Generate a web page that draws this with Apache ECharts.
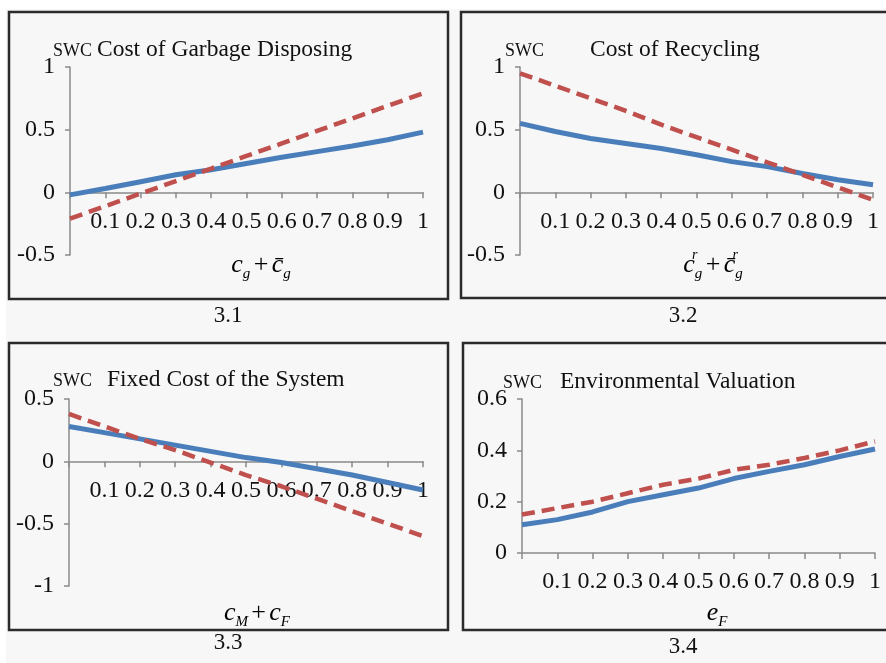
<!DOCTYPE html>
<html><head><meta charset="utf-8">
<script src="https://cdn.jsdelivr.net/npm/echarts@6/dist/echarts.min.js"></script>
<style>html,body{margin:0;padding:0;background:#f7f7f7}#c{width:886px;height:663px}</style>
</head><body><div id="c"></div>
<script>
// x positions (share of parameter)
const xValues = [0, 0.1, 0.2, 0.3, 0.4, 0.5, 0.6, 0.7, 0.8, 0.9, 1];
// 3.1 Cost of Garbage Disposing
const garbageSolid  = [-0.02, 0.03, 0.085, 0.14, 0.18, 0.23, 0.28, 0.325, 0.37, 0.42, 0.48];
const garbageDashed = [-0.21, -0.11, -0.01, 0.09, 0.19, 0.29, 0.39, 0.49, 0.59, 0.69, 0.79];
// 3.2 Cost of Recycling
const recycSolid  = [0.55, 0.485, 0.43, 0.39, 0.35, 0.30, 0.245, 0.205, 0.15, 0.10, 0.06];
const recycDashed = [0.95, 0.85, 0.75, 0.65, 0.54, 0.44, 0.34, 0.24, 0.14, 0.04, -0.06];
// 3.3 Fixed Cost of the System
const fixedSolid  = [0.28, 0.23, 0.18, 0.13, 0.08, 0.03, -0.01, -0.06, -0.11, -0.17, -0.23];
const fixedDashed = [0.38, 0.28, 0.18, 0.09, -0.01, -0.11, -0.20, -0.30, -0.40, -0.50, -0.60];
// 3.4 Environmental Valuation
const envSolid  = [0.11, 0.13, 0.16, 0.20, 0.227, 0.253, 0.29, 0.318, 0.344, 0.376, 0.405];
const envDashed = [0.15, 0.175, 0.20, 0.233, 0.266, 0.29, 0.324, 0.344, 0.37, 0.40, 0.435];

const titles = ['Cost of Garbage Disposing', 'Cost of Recycling', 'Fixed Cost of the System', 'Environmental Valuation'];
const captions = ['3.1', '3.2', '3.3', '3.4'];
const yLabel = 'SWC';
const yRanges = [[-0.5, 1, 0.5], [-0.5, 1, 0.5], [-1, 0.5, 0.5], [0, 0.6, 0.2]];

const FONT = '"Liberation Serif", "Times New Roman", serif';
const TXT = '#111111';
const BLUE = '#4a7ebb';
const RED = '#c0504d';
const AX = '#8a8a8a';

const grids = [
  {left: 70, top: 67, width: 353, height: 188},
  {left: 520, top: 67, width: 353, height: 188},
  {left: 69, top: 399, width: 354, height: 187},
  {left: 522, top: 399, width: 353, height: 154}
];

function pairs(ys){ return xValues.map((x,i)=>[x, ys[i]]); }
const seriesData = [[garbageSolid, garbageDashed],[recycSolid, recycDashed],[fixedSolid, fixedDashed],[envSolid, envDashed]];

const xAxes = grids.map((g,i)=>{
  const r = yRanges[i];
  const off = -g.height * (0 - r[0]) / (r[1] - r[0]);
  return {
    type:'value', gridIndex:i, min:0, max:1, interval:0.1, position:'bottom', offset:off,
    axisLine:{onZero:false, lineStyle:{color:AX, width:1.5}},
    axisTick:{show:true, inside:false, length:6, lineStyle:{color:AX, width:1.5}},
    splitLine:{show:false},
    axisLabel:{margin:17, color:TXT, fontFamily:FONT, fontSize:24,
      formatter:v=> v===0 ? '' : String(+v.toFixed(1))}
  };
});
const yAxes = grids.map((g,i)=>({
  type:'value', gridIndex:i, min:yRanges[i][0], max:yRanges[i][1], interval:yRanges[i][2],
  axisLine:{show:true, onZero:false, lineStyle:{color:AX, width:1.5}},
  axisTick:{show:true, length:5, lineStyle:{color:AX, width:1.5}},
  splitLine:{show:false},
  axisLabel:{margin:15, color:TXT, fontFamily:FONT, fontSize:24,
    formatter:v=> String(+v.toFixed(1))}
}));
const series = [];
seriesData.forEach((pair,i)=>{
  series.push({type:'line', xAxisIndex:i, yAxisIndex:i, data:pairs(pair[0]), showSymbol:false, symbol:'none',
    lineStyle:{color:BLUE, width:5}, z:3});
  series.push({type:'line', xAxisIndex:i, yAxisIndex:i, data:pairs(pair[1]), showSymbol:false, symbol:'none',
    lineStyle:{color:RED, width:4.5, type:[13,7], cap:'butt'}, z:4});
});

const frames = [
  {x:9, y:12, w:439, h:287},
  {x:461, y:12, w:440, h:286},
  {x:9, y:343, w:439, h:287},
  {x:463, y:343, w:440, h:287}
];
const graphic = [
  {type:'rect', shape:{x:0,y:0,width:886,height:9}, style:{fill:'#ffffff'}, z:-10, silent:true},
  {type:'rect', shape:{x:0,y:0,width:6,height:663}, style:{fill:'#ffffff'}, z:-10, silent:true}
];
frames.forEach(f=>{
  graphic.push({type:'rect', shape:{x:f.x, y:f.y, width:f.w, height:f.h},
    style:{fill:'#f7f7f7', stroke:'#2b2b2b', lineWidth:2.5}, z:-5, silent:true});
});
const swcPos = [[53,51],[505,51],[53,381],[503,383]];
const titlePos = [[97,50],[590,50],[107,380],[560,382]];
for(let i=0;i<4;i++){
  graphic.push({type:'text', x:swcPos[i][0], y:swcPos[i][1], style:{text:yLabel, font:'18px '+FONT, fill:TXT, textVerticalAlign:'middle'}, z:10});
  graphic.push({type:'text', x:titlePos[i][0], y:titlePos[i][1], style:{text:titles[i], font:'23.5px '+FONT, fill:TXT, textVerticalAlign:'middle'}, z:10});
}
const capPos = [[228,316],[683,316],[228,643],[683,647]];
captions.forEach((c,i)=>{
  graphic.push({type:'text', x:capPos[i][0], y:capPos[i][1], style:{text:c, font:'23px '+FONT, fill:TXT, textAlign:'center', textVerticalAlign:'middle'}, z:10});
});
const richStyle = {
  i:{fontFamily:FONT, fontStyle:'italic', fontSize:26, color:TXT, lineHeight:34, verticalAlign:'middle'},
  o:{fontFamily:FONT, fontSize:26, color:TXT, lineHeight:34, verticalAlign:'middle'},
  sub:{fontFamily:FONT, fontStyle:'italic', fontSize:15, color:TXT, lineHeight:34, verticalAlign:'bottom'},
  sup:{fontFamily:FONT, fontStyle:'italic', fontSize:14, color:TXT, lineHeight:34, verticalAlign:'top', width:0.1}
};
const xNames = [
  '{i|c}{sub|g} {o|+} {i|c\u0304}{sub|g}',
  '{i|c}{sup|r}{sub|g} {o|+} {i|c\u0304}{sup|r}{sub|g}',
  '{i|c}{sub|M} {o|+} {i|c}{sub|F}',
  '{i|e}{sub|F}'
];
const xNamePos = [[261,265],[713,265],[257,613],[717,613]];
xNames.forEach((t,i)=>{
  graphic.push({type:'text', x:xNamePos[i][0], y:xNamePos[i][1], style:{text:t, rich:richStyle, textAlign:'center', textVerticalAlign:'middle'}, z:10});
});

const chart = echarts.init(document.getElementById('c'), null, {renderer:'canvas'});
chart.setOption({
  backgroundColor:'#f7f7f7',
  animation:false,
  grid:grids,
  xAxis:xAxes,
  yAxis:yAxes,
  series:series,
  graphic:graphic
});
</script></body></html>
